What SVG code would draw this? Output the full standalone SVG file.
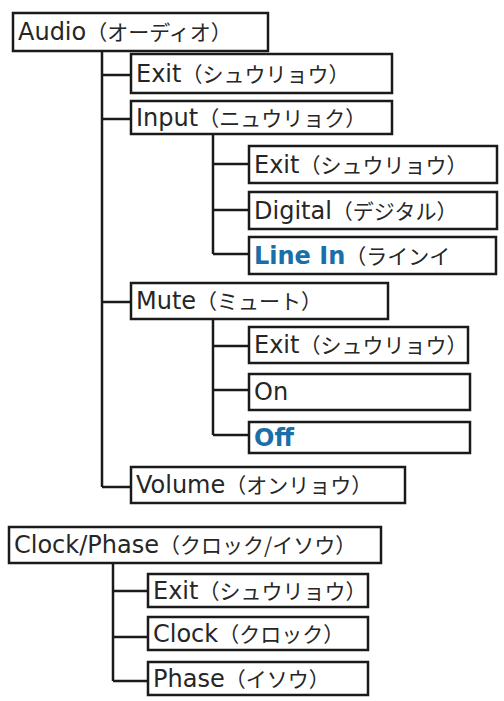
<svg xmlns="http://www.w3.org/2000/svg" width="504" height="701" viewBox="0 0 504 701">
<style>
.box{fill:#fff;stroke:#1a1a1a;stroke-width:2.5}
.ln{fill:none;stroke:#1a1a1a;stroke-width:2.5}
text{font-family:"DejaVu Sans","Noto Sans CJK JP",sans-serif;font-size:24px;fill:#262626}
.j{font-family:"Noto Sans CJK JP",sans-serif;font-size:21px}
.b{font-weight:bold;fill:#1a6fa8}
</style>
<rect width="504" height="701" fill="#fff"/>
<g id="connectors">
<path class="ln" d="M102,51V487M102,75H131M102,119H131M102,302H131M102,487H131"/>
<path class="ln" d="M213,134V254M213,164H249M213,210H249M213,254H249"/>
<path class="ln" d="M213,319V435M213,346H249M213,390H249M213,435H249"/>
<path class="ln" d="M113,563V681M113,591H148M113,637H148M113,681H148"/>
</g>
<g id="audio"><rect class="box" x="13" y="13" width="255" height="38"/><text x="18" y="40"><tspan>Audio</tspan><tspan class="j">（オーディオ）</tspan></text></g>
<g id="audio-exit"><rect class="box" x="131" y="54" width="261" height="39"/><text x="136" y="82"><tspan>Exit</tspan><tspan class="j">（シュウリョウ）</tspan></text></g>
<g id="input"><rect class="box" x="131" y="101" width="261" height="33"/><text x="136" y="126"><tspan>Input</tspan><tspan class="j">（ニュウリョク）</tspan></text></g>
<g id="input-exit"><rect class="box" x="249" y="146" width="248" height="37"/><text x="254" y="173"><tspan>Exit</tspan><tspan class="j">（シュウリョウ）</tspan></text></g>
<g id="digital"><rect class="box" x="249" y="192" width="248" height="37"/><text x="254" y="219"><tspan>Digital</tspan><tspan class="j">（デジタル）</tspan></text></g>
<g id="linein"><rect class="box" x="249" y="237" width="247" height="37"/><text x="254" y="264"><tspan class="b">Line In</tspan><tspan class="j">（ラインイ</tspan></text></g>
<g id="mute"><rect class="box" x="131" y="283" width="257" height="36"/><text x="136" y="309"><tspan>Mute</tspan><tspan class="j">（ミュート）</tspan></text></g>
<g id="mute-exit"><rect class="box" x="249" y="327" width="219" height="36"/><text x="254" y="353"><tspan>Exit</tspan><tspan class="j">（シュウリョウ）</tspan></text></g>
<g id="on"><rect class="box" x="249" y="374" width="221" height="36"/><text x="254" y="400">On</text></g>
<g id="off"><rect class="box" x="249" y="422" width="221" height="31"/><text x="254" y="446" class="b">Off</text></g>
<g id="volume"><rect class="box" x="131" y="467" width="274" height="36"/><text x="136" y="493"><tspan>Volume</tspan><tspan class="j">（オンリョウ）</tspan></text></g>
<g id="clockphase"><rect class="box" x="9" y="527" width="372" height="36"/><text x="14" y="553"><tspan>Clock/Phase</tspan><tspan class="j">（クロック/イソウ）</tspan></text></g>
<g id="cp-exit"><rect class="box" x="148" y="574" width="220" height="33"/><text x="153" y="599"><tspan>Exit</tspan><tspan class="j">（シュウリョウ）</tspan></text></g>
<g id="clock"><rect class="box" x="148" y="617" width="220" height="33"/><text x="153" y="642"><tspan>Clock</tspan><tspan class="j">（クロック）</tspan></text></g>
<g id="phase"><rect class="box" x="148" y="662" width="220" height="33"/><text x="153" y="687"><tspan>Phase</tspan><tspan class="j">（イソウ）</tspan></text></g>
</svg>
